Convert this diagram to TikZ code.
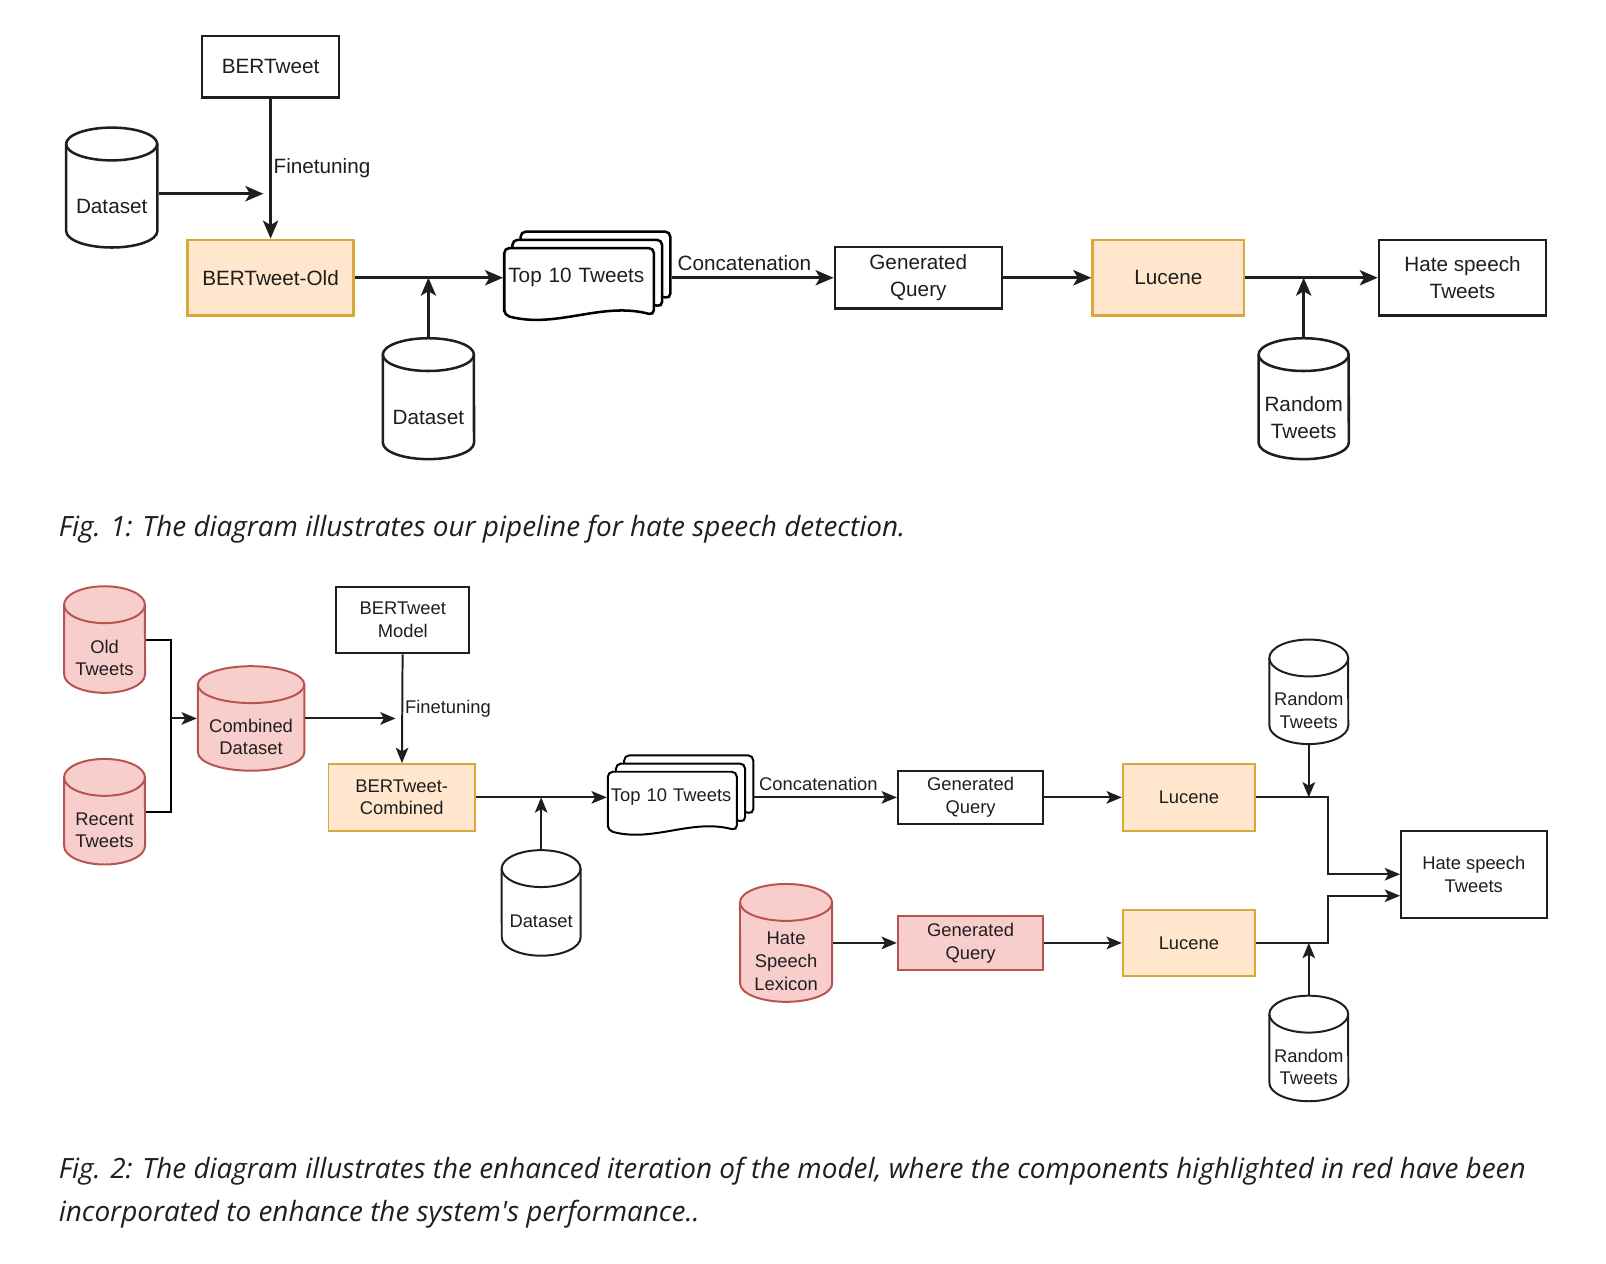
\documentclass[tikz,border=0pt]{standalone}
\usepackage{fontspec}
\setmainfont{Liberation Sans}
\newfontfamily\capfont{Open Sans}
\usetikzlibrary{arrows.meta}

\definecolor{peach}{HTML}{FFE6CC}
\definecolor{gold}{HTML}{D6A93A}
\definecolor{rose}{HTML}{F8CECC}
\definecolor{rosedark}{HTML}{B85450}
\definecolor{ink}{HTML}{1E1E1E}

% one page of the tweet stack: x, y (top left), width, height
\newcommand{\docpage}[4]{%
  \draw[fill=white, rounded corners=0.1cm] (#1,{#2+0.91*#4}) -- (#1,#2) -- ({#1+#3},#2) -- ({#1+#3},{#2+0.91*#4})
    .. controls ({#1+0.65*#3},{#2+0.72*#4}) and ({#1+0.35*#3},{#2+1.1*#4}) .. (#1,{#2+0.91*#4}) -- cycle;}
% three pages: x, y, width, height, offset
\newcommand{\tweetstack}[5]{%
  \docpage{#1+2*#5}{#2-2*#5}{#3}{#4}
  \docpage{#1+#5}{#2-#5}{#3}{#4}
  \docpage{#1}{#2}{#3}{#4}}
% database cylinder: name, cx, cy, width, height, style, text
\newcommand{\dbnode}[7]{%
  \draw[draw=ink, fill=white, #6] ({#2-#4/2},{#3-#5/2+\cylr})
    arc[start angle=180, end angle=0, x radius=#4*0.01cm, y radius=\cylr*0.02cm]
    -- ({#2+#4/2},{#3+#5/2-\cylr})
    arc[start angle=0, end angle=-180, x radius=#4*0.01cm, y radius=\cylr*0.02cm] -- cycle;
  \draw[draw=ink, #6, fill=none] ({#2-#4/2},{#3-#5/2+\cylr})
    arc[start angle=180, end angle=360, x radius=#4*0.01cm, y radius=\cylr*0.02cm];
  \coordinate (#1 top) at (#2,{#3-#5/2});
  \coordinate (#1 mid) at (#2,#3);
  \draw (#2,{#3+\cylr+\cylg/2}) node[dbtext, minimum width=#4*0.02cm, minimum height={(#5-2*\cylr-\cylg)*0.02cm}] (#1) {#7};}

\tikzset{
  box/.style={draw=ink, fill=white, align=center, inner sep=0pt},
  hl/.style={draw=gold, fill=peach},
  added/.style={draw=rosedark, fill=rose},
  dbtext/.style={align=center, inner sep=0pt},
}

\begin{document}
\begin{tikzpicture}[x=0.02cm, y=-0.02cm, text=ink]
\useasboundingbox (0,0) rectangle (1567,1233);

% Fig. 1
\begin{scope}[line width=1.4pt, font=\fontsize{11.5}{15}\selectfont,
  arr/.style={draw=ink, -{Stealth[length=10pt, width=8.5pt, inset=2.5pt]}}]
\def\cylr{16}\def\cylg{4}
\tweetstack{492}{242}{146}{72}{8}

\draw (264,65) node[box, minimum width=2.68cm, minimum height=1.2cm] (bert) {BERTweet};
\dbnode{ds1}{109}{183}{89}{117}{}{Dataset}
\draw (264,271) node[box, hl, minimum width=3.24cm, minimum height=1.48cm] (bold) {BERTweet-Old};
\dbnode{ds2}{418}{389}{89}{118}{}{Dataset}
\draw (573,271) node[inner xsep=0.08cm, text width=3.08cm, align=left, minimum height=1.5cm] (top1) {Top 10 Tweets};
\draw (896,271) node[box, minimum width=3.26cm, minimum height=1.2cm] (gq1) {Generated\\Query};
\draw (1140,271) node[box, hl, minimum width=2.96cm, minimum height=1.48cm] (luc1) {Lucene};
\draw (1427,271) node[box, minimum width=3.26cm, minimum height=1.48cm] (hs1) {Hate speech\\Tweets};
\dbnode{rt1}{1272}{389}{88}{118}{}{Random\\Tweets}

\coordinate (ft1) at (257,189);
\coordinate (j1) at (418,271);
\coordinate (j2) at (1272,271);

\draw[arr] (ds1.east |- ft1) -- (ft1);
\draw[arr] (bert) -- node[midway, right, inner sep=1pt] {Finetuning} (bold);
\draw[arr] (bold) -- (top1.west);
\draw[arr] (ds2 top) -- (j1);
\draw[arr] (top1.east) -- node[pos=0.45, above, inner sep=3pt] {Concatenation} (gq1);
\draw[arr] (gq1) -- (luc1);
\draw[arr] (luc1) -- (hs1);
\draw[arr] (rt1 top) -- (j2);
\end{scope}

\node[anchor=west, inner sep=0pt, font=\capfont\itshape\fontsize{15.5}{19}\selectfont] (cap1) at (57,516)
  {Fig. 1: The diagram illustrates our pipeline for hate speech detection.};

% Fig. 2
\begin{scope}[line width=1.1pt, font=\fontsize{10.2}{12.6}\selectfont,
  arr/.style={draw=ink, -{Stealth[length=8.5pt, width=7pt, inset=2pt]}}]
\def\cylr{18}\def\cylg{0}
\tweetstack{593}{753}{126}{63}{8}

\dbnode{old}{102}{624}{79}{104}{added}{Old\\Tweets}
\dbnode{rec}{102}{792}{79}{103}{added}{Recent\\Tweets}
\dbnode{comb}{245}{701}{104}{102}{added}{Combined\\Dataset}
\draw (393,605) node[box, minimum width=2.6cm, minimum height=1.3cm] (bmod) {BERTweet\\Model};
\draw (392,778) node[box, hl, minimum width=2.86cm, minimum height=1.3cm] (bcomb) {BERTweet-\\Combined};
\dbnode{ds3}{528}{881}{77}{103}{}{Dataset}
\draw (664,778) node[inner xsep=0.06cm, text width=2.72cm, align=left, minimum height=1.3cm] (top2) {Top 10 Tweets};
\draw (947,778) node[box, minimum width=2.84cm, minimum height=1.04cm] (gq2) {Generated\\Query};
\draw (1160,778) node[box, hl, minimum width=2.58cm, minimum height=1.3cm] (luc2) {Lucene};
\dbnode{rt2}{1277}{675}{77}{102}{}{Random\\Tweets}
\draw (1438,853) node[box, minimum width=2.84cm, minimum height=1.7cm] (hs2) {Hate speech\\Tweets};
\dbnode{lex}{767}{920}{90}{115}{added}{Hate\\Speech\\Lexicon}
\draw (947,920) node[box, added, minimum width=2.84cm, minimum height=1.04cm] (gq3) {Generated\\Query};
\draw (1160,920) node[box, hl, minimum width=2.58cm, minimum height=1.3cm] (luc3) {Lucene};
\dbnode{rt3}{1277}{1023}{77}{103}{}{Random\\Tweets}

\coordinate (m2) at (167,701);
\coordinate (ft2) at (386,701);
\coordinate (j3) at (528,778);
\coordinate (j4) at (1277,778);
\coordinate (j5) at (1277,920);
\coordinate (k1) at (1296,853);
\coordinate (k2) at (1296,874);

\draw (old mid -| old.east) -| (m2) |- (rec mid -| rec.east);
\draw[arr] (m2) -- (m2 -| comb.west);
\draw[arr] (comb.east |- ft2) -- (ft2);
\draw[arr] (bmod) -- node[midway, right, inner sep=1pt] {Finetuning} (bcomb);
\draw[arr] (bcomb) -- (top2.west);
\draw[arr] (ds3 top) -- (j3);
\draw[arr] (top2.east) -- node[pos=0.45, above, inner sep=3pt] {Concatenation} (gq2);
\draw[arr] (gq2) -- (luc2);
\draw[arr] (rt2) -- (j4);
\draw[arr] (luc2.east) -| (k1) -- (hs2.west);
\draw[arr] (lex.east |- gq3) -- (gq3);
\draw[arr] (gq3) -- (luc3);
\draw[arr] (rt3 top) -- (j5);
\draw[arr] (luc3.east) -| (k2) -- (hs2.west |- k2);
\end{scope}

\node[anchor=west, align=left, inner sep=0pt, font=\capfont\itshape\fontsize{15.5}{23.8}\selectfont] (cap2) at (57,1164)
  {Fig. 2: The diagram illustrates the enhanced iteration of the model, where the components highlighted in red have been\\
   incorporated to enhance the system's performance..};
\end{tikzpicture}
\end{document}
